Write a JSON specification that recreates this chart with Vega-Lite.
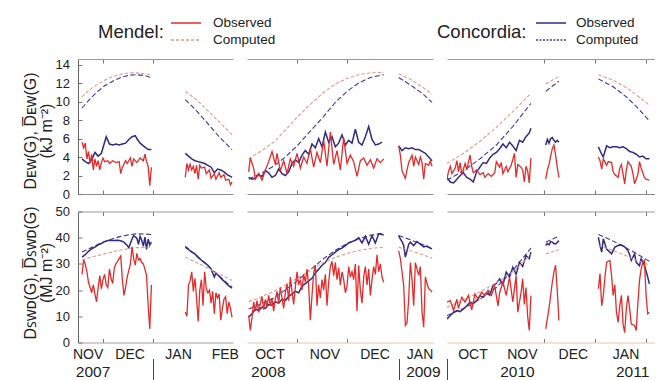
{
"$schema":"https://vega.github.io/schema/vega-lite/v6.json",
"background":"white",
"padding":{"left":21,"top":14,"right":0,"bottom":0},
"datasets":{
"E1MO":[{"d":"2007-11-18","g":1,"v":5.6},{"d":"2007-11-19","g":1,"v":5.0},{"d":"2007-11-20","g":1,"v":5.5},{"d":"2007-11-21","g":1,"v":3.8},{"d":"2007-11-22","g":1,"v":4.6},{"d":"2007-11-23","g":1,"v":3.3},{"d":"2007-11-24","g":1,"v":4.3},{"d":"2007-11-25","g":1,"v":2.6},{"d":"2007-11-26","g":1,"v":3.8},{"d":"2007-11-27","g":1,"v":3.0},{"d":"2007-11-28","g":1,"v":3.6},{"d":"2007-11-29","g":1,"v":2.6},{"d":"2007-11-30","g":1,"v":3.4},{"d":"2007-12-01","g":1,"v":3.9},{"d":"2007-12-02","g":1,"v":3.5},{"d":"2007-12-04","g":1,"v":3.6},{"d":"2007-12-05","g":1,"v":3.3},{"d":"2007-12-07","g":1,"v":3.6},{"d":"2007-12-09","g":1,"v":3.4},{"d":"2007-12-11","g":1,"v":3.5},{"d":"2007-12-12","g":1,"v":2.2},{"d":"2007-12-13","g":1,"v":2.9},{"d":"2007-12-15","g":1,"v":3.6},{"d":"2007-12-16","g":1,"v":3.3},{"d":"2007-12-18","g":1,"v":3.9},{"d":"2007-12-19","g":1,"v":3.0},{"d":"2007-12-20","g":1,"v":3.8},{"d":"2007-12-22","g":1,"v":3.4},{"d":"2007-12-24","g":1,"v":3.9},{"d":"2007-12-26","g":1,"v":3.6},{"d":"2007-12-27","g":1,"v":4.3},{"d":"2007-12-28","g":1,"v":3.5},{"d":"2007-12-29","g":1,"v":3.0},{"d":"2007-12-30","g":1,"v":0.9},{"d":"2007-12-31","g":1,"v":2.9},
{"d":"2008-01-21","g":2,"v":1.8},{"d":"2008-01-22","g":2,"v":3.3},{"d":"2008-01-23","g":2,"v":2.6},{"d":"2008-01-24","g":2,"v":3.2},{"d":"2008-01-25","g":2,"v":2.6},{"d":"2008-01-26","g":2,"v":3.0},{"d":"2008-01-27","g":2,"v":2.2},{"d":"2008-01-28","g":2,"v":3.1},{"d":"2008-01-29","g":2,"v":1.6},{"d":"2008-01-30","g":2,"v":3.1},{"d":"2008-01-31","g":2,"v":2.8},{"d":"2008-02-02","g":2,"v":2.9},{"d":"2008-02-03","g":2,"v":2.2},{"d":"2008-02-05","g":2,"v":2.6},{"d":"2008-02-06","g":2,"v":1.7},{"d":"2008-02-08","g":2,"v":2.2},{"d":"2008-02-09","g":2,"v":1.6},{"d":"2008-02-11","g":2,"v":2.3},{"d":"2008-02-12","g":2,"v":1.8},{"d":"2008-02-14","g":2,"v":2.1},{"d":"2008-02-15","g":2,"v":1.5},{"d":"2008-02-17","g":2,"v":1.6},{"d":"2008-02-18","g":2,"v":1.0},{"d":"2008-02-19","g":2,"v":1.3}],
"E1MC":[{"d":"2007-11-18","g":1,"v":10.5},{"d":"2007-11-22","g":1,"v":11.2},{"d":"2007-11-27","g":1,"v":11.8},{"d":"2007-12-02","g":1,"v":12.3},{"d":"2007-12-07","g":1,"v":12.7},{"d":"2007-12-12","g":1,"v":12.95},{"d":"2007-12-17","g":1,"v":13.1},{"d":"2007-12-22","g":1,"v":13.1},{"d":"2007-12-27","g":1,"v":13.0},{"d":"2007-12-31","g":1,"v":12.9},
{"d":"2008-01-21","g":2,"v":11.1},{"d":"2008-01-28","g":2,"v":10.2},{"d":"2008-02-04","g":2,"v":9.0},{"d":"2008-02-11","g":2,"v":7.8},{"d":"2008-02-19","g":2,"v":6.4}],
"E1CO":[{"d":"2007-11-18","g":1,"v":3.8},{"d":"2007-11-20","g":1,"v":3.5},{"d":"2007-11-22","g":1,"v":3.3},{"d":"2007-11-24","g":1,"v":3.7},{"d":"2007-11-26","g":1,"v":4.5},{"d":"2007-11-28","g":1,"v":4.1},{"d":"2007-11-30","g":1,"v":4.4},{"d":"2007-12-01","g":1,"v":5.0},{"d":"2007-12-03","g":1,"v":6.2},{"d":"2007-12-05","g":1,"v":5.4},{"d":"2007-12-07","g":1,"v":5.3},{"d":"2007-12-09","g":1,"v":5.4},{"d":"2007-12-11","g":1,"v":5.3},{"d":"2007-12-13","g":1,"v":5.4},{"d":"2007-12-15","g":1,"v":5.5},{"d":"2007-12-17","g":1,"v":5.9},{"d":"2007-12-19","g":1,"v":6.2},{"d":"2007-12-21","g":1,"v":6.3},{"d":"2007-12-22","g":1,"v":6.0},{"d":"2007-12-24","g":1,"v":5.5},{"d":"2007-12-26","g":1,"v":5.2},{"d":"2007-12-29","g":1,"v":4.8},{"d":"2007-12-31","g":1,"v":4.8},
{"d":"2008-01-21","g":2,"v":4.4},{"d":"2008-01-23","g":2,"v":4.1},{"d":"2008-01-25","g":2,"v":3.8},{"d":"2008-01-27","g":2,"v":3.6},{"d":"2008-01-29","g":2,"v":3.5},{"d":"2008-01-31","g":2,"v":3.4},{"d":"2008-02-02","g":2,"v":3.3},{"d":"2008-02-04","g":2,"v":3.1},{"d":"2008-02-06","g":2,"v":2.9},{"d":"2008-02-08","g":2,"v":2.3},{"d":"2008-02-10","g":2,"v":2.7},{"d":"2008-02-12","g":2,"v":2.6},{"d":"2008-02-14","g":2,"v":2.4},{"d":"2008-02-16","g":2,"v":2.1},{"d":"2008-02-18","g":2,"v":1.9},{"d":"2008-02-19","g":2,"v":1.8}],
"E1CC":[{"d":"2007-11-18","g":1,"v":9.3},{"d":"2007-11-22","g":1,"v":10.1},{"d":"2007-11-27","g":1,"v":11.0},{"d":"2007-12-02","g":1,"v":11.7},{"d":"2007-12-07","g":1,"v":12.2},{"d":"2007-12-12","g":1,"v":12.6},{"d":"2007-12-17","g":1,"v":12.85},{"d":"2007-12-22","g":1,"v":12.9},{"d":"2007-12-27","g":1,"v":12.8},{"d":"2007-12-31","g":1,"v":12.6},
{"d":"2008-01-21","g":2,"v":10.2},{"d":"2008-01-28","g":2,"v":9.0},{"d":"2008-02-04","g":2,"v":7.6},{"d":"2008-02-11","g":2,"v":6.2},{"d":"2008-02-19","g":2,"v":4.8}],
"E2MO":[{"d":"2008-10-03","g":1,"v":2.4},{"d":"2008-10-04","g":1,"v":3.9},{"d":"2008-10-06","g":1,"v":2.8},{"d":"2008-10-07","g":1,"v":1.6},{"d":"2008-10-09","g":1,"v":2.2},{"d":"2008-10-11","g":1,"v":1.5},{"d":"2008-10-13","g":1,"v":2.6},{"d":"2008-10-15","g":1,"v":3.5},{"d":"2008-10-17","g":1,"v":4.6},{"d":"2008-10-19","g":1,"v":3.2},{"d":"2008-10-20","g":1,"v":4.4},{"d":"2008-10-22","g":1,"v":2.5},{"d":"2008-10-24","g":1,"v":3.6},{"d":"2008-10-26","g":1,"v":2.2},{"d":"2008-10-28","g":1,"v":3.8},{"d":"2008-10-30","g":1,"v":3.0},{"d":"2008-11-01","g":1,"v":4.4},{"d":"2008-11-03","g":1,"v":2.8},{"d":"2008-11-05","g":1,"v":4.0},{"d":"2008-11-07","g":1,"v":3.3},{"d":"2008-11-09","g":1,"v":4.9},{"d":"2008-11-11","g":1,"v":2.9},{"d":"2008-11-13","g":1,"v":4.5},{"d":"2008-11-15","g":1,"v":3.4},{"d":"2008-11-17","g":1,"v":5.8},{"d":"2008-11-19","g":1,"v":3.0},{"d":"2008-11-21","g":1,"v":6.7},{"d":"2008-11-23","g":1,"v":3.2},{"d":"2008-11-25","g":1,"v":4.7},{"d":"2008-11-27","g":1,"v":2.6},{"d":"2008-11-29","g":1,"v":6.1},{"d":"2008-12-01","g":1,"v":3.3},{"d":"2008-12-03","g":1,"v":4.2},{"d":"2008-12-05","g":1,"v":3.5},{"d":"2008-12-07","g":1,"v":1.9},{"d":"2008-12-09","g":1,"v":3.6},{"d":"2008-12-11","g":1,"v":3.9},{"d":"2008-12-13","g":1,"v":3.1},{"d":"2008-12-15","g":1,"v":3.7},{"d":"2008-12-17","g":1,"v":2.8},{"d":"2008-12-19","g":1,"v":3.8},{"d":"2008-12-21","g":1,"v":3.4},{"d":"2008-12-23","g":1,"v":3.8},
{"d":"2009-01-01","g":2,"v":5.2},{"d":"2009-01-02","g":2,"v":4.2},{"d":"2009-01-03","g":2,"v":2.5},{"d":"2009-01-05","g":2,"v":1.7},{"d":"2009-01-06","g":2,"v":2.6},{"d":"2009-01-07","g":2,"v":3.4},{"d":"2009-01-09","g":2,"v":4.2},{"d":"2009-01-10","g":2,"v":3.0},{"d":"2009-01-11","g":2,"v":4.0},{"d":"2009-01-13","g":2,"v":3.2},{"d":"2009-01-14","g":2,"v":4.0},{"d":"2009-01-15","g":2,"v":3.4},{"d":"2009-01-16","g":2,"v":1.6},{"d":"2009-01-17","g":2,"v":3.3},{"d":"2009-01-19","g":2,"v":3.1},{"d":"2009-01-20","g":2,"v":3.6},{"d":"2009-01-21","g":2,"v":3.0}],
"E2MC":[{"d":"2008-10-03","g":1,"v":3.8},{"d":"2008-10-10","g":1,"v":4.6},{"d":"2008-10-18","g":1,"v":5.6},{"d":"2008-10-25","g":1,"v":6.9},{"d":"2008-11-01","g":1,"v":8.3},{"d":"2008-11-09","g":1,"v":9.7},{"d":"2008-11-17","g":1,"v":11.0},{"d":"2008-11-24","g":1,"v":11.9},{"d":"2008-12-01","g":1,"v":12.5},{"d":"2008-12-08","g":1,"v":12.9},{"d":"2008-12-15","g":1,"v":13.1},{"d":"2008-12-23","g":1,"v":13.15},
{"d":"2009-01-01","g":2,"v":13.0},{"d":"2009-01-08","g":2,"v":12.4},{"d":"2009-01-15","g":2,"v":11.6},{"d":"2009-01-21","g":2,"v":10.8}],
"E2CO":[{"d":"2008-10-03","g":1,"v":1.8},{"d":"2008-10-05","g":1,"v":1.6},{"d":"2008-10-07","g":1,"v":1.7},{"d":"2008-10-09","g":1,"v":2.1},{"d":"2008-10-11","g":1,"v":1.9},{"d":"2008-10-13","g":1,"v":2.5},{"d":"2008-10-15","g":1,"v":2.3},{"d":"2008-10-17","g":1,"v":1.8},{"d":"2008-10-19","g":1,"v":2.0},{"d":"2008-10-21","g":1,"v":2.7},{"d":"2008-10-23","g":1,"v":2.2},{"d":"2008-10-25","g":1,"v":2.0},{"d":"2008-10-27","g":1,"v":2.4},{"d":"2008-10-29","g":1,"v":3.3},{"d":"2008-10-31","g":1,"v":3.7},{"d":"2008-11-02","g":1,"v":3.4},{"d":"2008-11-04","g":1,"v":4.2},{"d":"2008-11-06","g":1,"v":4.7},{"d":"2008-11-08","g":1,"v":4.3},{"d":"2008-11-10","g":1,"v":5.4},{"d":"2008-11-12","g":1,"v":5.0},{"d":"2008-11-14","g":1,"v":6.0},{"d":"2008-11-16","g":1,"v":5.1},{"d":"2008-11-18","g":1,"v":6.7},{"d":"2008-11-20","g":1,"v":5.6},{"d":"2008-11-22","g":1,"v":6.2},{"d":"2008-11-24","g":1,"v":5.1},{"d":"2008-11-26","g":1,"v":5.5},{"d":"2008-11-28","g":1,"v":6.4},{"d":"2008-11-30","g":1,"v":5.3},{"d":"2008-12-02","g":1,"v":5.8},{"d":"2008-12-04","g":1,"v":5.5},{"d":"2008-12-06","g":1,"v":7.0},{"d":"2008-12-08","g":1,"v":5.6},{"d":"2008-12-10","g":1,"v":5.3},{"d":"2008-12-12","g":1,"v":6.2},{"d":"2008-12-14","g":1,"v":7.3},{"d":"2008-12-16","g":1,"v":5.9},{"d":"2008-12-18","g":1,"v":5.3},{"d":"2008-12-20","g":1,"v":5.4},{"d":"2008-12-22","g":1,"v":5.6},
{"d":"2009-01-01","g":2,"v":5.2},{"d":"2009-01-03","g":2,"v":4.7},{"d":"2009-01-05","g":2,"v":5.0},{"d":"2009-01-07","g":2,"v":4.9},{"d":"2009-01-09","g":2,"v":5.0},{"d":"2009-01-11","g":2,"v":4.8},{"d":"2009-01-13","g":2,"v":4.8},{"d":"2009-01-15","g":2,"v":4.6},{"d":"2009-01-17","g":2,"v":4.4},{"d":"2009-01-19","g":2,"v":4.0},{"d":"2009-01-21","g":2,"v":3.6}],
"E2CC":[{"d":"2008-10-03","g":1,"v":1.6},{"d":"2008-10-10","g":1,"v":2.2},{"d":"2008-10-18","g":1,"v":3.0},{"d":"2008-10-25","g":1,"v":4.0},{"d":"2008-11-01","g":1,"v":5.2},{"d":"2008-11-09","g":1,"v":6.8},{"d":"2008-11-17","g":1,"v":8.4},{"d":"2008-11-24","g":1,"v":9.9},{"d":"2008-12-01","g":1,"v":11.1},{"d":"2008-12-08","g":1,"v":12.0},{"d":"2008-12-15","g":1,"v":12.6},{"d":"2008-12-23","g":1,"v":12.9},
{"d":"2009-01-01","g":2,"v":12.6},{"d":"2009-01-08","g":2,"v":11.8},{"d":"2009-01-15","g":2,"v":10.9},{"d":"2009-01-21","g":2,"v":9.9}],
"E3MO":[{"d":"2010-10-03","g":1,"v":1.6},{"d":"2010-10-04","g":1,"v":2.5},{"d":"2010-10-05","g":1,"v":3.0},{"d":"2010-10-06","g":1,"v":2.2},{"d":"2010-10-08","g":1,"v":2.8},{"d":"2010-10-09","g":1,"v":3.6},{"d":"2010-10-10","g":1,"v":2.4},{"d":"2010-10-11","g":1,"v":3.4},{"d":"2010-10-12","g":1,"v":2.1},{"d":"2010-10-14","g":1,"v":3.3},{"d":"2010-10-15","g":1,"v":2.6},{"d":"2010-10-17","g":1,"v":4.2},{"d":"2010-10-18","g":1,"v":3.0},{"d":"2010-10-19","g":1,"v":2.3},{"d":"2010-10-21","g":1,"v":2.6},{"d":"2010-10-23","g":1,"v":2.1},{"d":"2010-10-25","g":1,"v":2.3},{"d":"2010-10-26","g":1,"v":1.8},{"d":"2010-10-28","g":1,"v":2.2},{"d":"2010-10-30","g":1,"v":1.9},{"d":"2010-11-01","g":1,"v":2.3},{"d":"2010-11-02","g":1,"v":3.5},{"d":"2010-11-04","g":1,"v":2.9},{"d":"2010-11-05","g":1,"v":3.4},{"d":"2010-11-06","g":1,"v":2.2},{"d":"2010-11-08","g":1,"v":3.0},{"d":"2010-11-09","g":1,"v":2.4},{"d":"2010-11-11","g":1,"v":3.1},{"d":"2010-11-13","g":1,"v":4.4},{"d":"2010-11-14","g":1,"v":1.8},{"d":"2010-11-15","g":1,"v":3.2},{"d":"2010-11-17","g":1,"v":2.9},{"d":"2010-11-18","g":1,"v":2.6},{"d":"2010-11-19","g":1,"v":1.3},{"d":"2010-11-20","g":1,"v":3.0},{"d":"2010-11-21","g":1,"v":2.5},{"d":"2010-11-22","g":1,"v":1.2},{"d":"2010-11-23","g":1,"v":3.9},
{"d":"2010-12-02","g":2,"v":1.6},{"d":"2010-12-03","g":2,"v":2.6},{"d":"2010-12-04","g":2,"v":3.2},{"d":"2010-12-05","g":2,"v":4.1},{"d":"2010-12-06","g":2,"v":4.9},{"d":"2010-12-07","g":2,"v":5.3},{"d":"2010-12-08","g":2,"v":4.2},{"d":"2010-12-09","g":2,"v":2.9},{"d":"2010-12-10","g":2,"v":1.8},
{"d":"2011-01-03","g":3,"v":4.0},{"d":"2011-01-04","g":3,"v":3.6},{"d":"2011-01-05","g":3,"v":2.7},{"d":"2011-01-06","g":3,"v":3.8},{"d":"2011-01-08","g":3,"v":3.1},{"d":"2011-01-09","g":3,"v":3.5},{"d":"2011-01-11","g":3,"v":3.4},{"d":"2011-01-12","g":3,"v":2.4},{"d":"2011-01-13","g":3,"v":2.1},{"d":"2011-01-15","g":3,"v":1.8},{"d":"2011-01-16","g":3,"v":2.8},{"d":"2011-01-17","g":3,"v":3.2},{"d":"2011-01-19","g":3,"v":1.1},{"d":"2011-01-20","g":3,"v":2.6},{"d":"2011-01-21","g":3,"v":3.5},{"d":"2011-01-23","g":3,"v":3.0},{"d":"2011-01-24","g":3,"v":2.2},{"d":"2011-01-25","g":3,"v":1.1},{"d":"2011-01-27","g":3,"v":2.1},{"d":"2011-01-28","g":3,"v":3.5},{"d":"2011-01-29","g":3,"v":2.8},{"d":"2011-01-31","g":3,"v":1.8},{"d":"2011-02-01","g":3,"v":1.6},{"d":"2011-02-03","g":3,"v":1.5}],
"E3MC":[{"d":"2010-10-03","g":1,"v":3.3},{"d":"2010-10-13","g":1,"v":4.4},{"d":"2010-10-23","g":1,"v":5.7},{"d":"2010-11-02","g":1,"v":7.2},{"d":"2010-11-12","g":1,"v":8.9},{"d":"2010-11-23","g":1,"v":10.9},
{"d":"2010-12-02","g":2,"v":11.9},{"d":"2010-12-10","g":2,"v":12.7},
{"d":"2011-01-03","g":3,"v":12.9},{"d":"2011-01-12","g":3,"v":12.3},{"d":"2011-01-20","g":3,"v":11.5},{"d":"2011-01-27","g":3,"v":10.6},{"d":"2011-02-03","g":3,"v":9.6}],
"E3CO":[{"d":"2010-10-03","g":1,"v":1.8},{"d":"2010-10-05","g":1,"v":1.3},{"d":"2010-10-07","g":1,"v":1.2},{"d":"2010-10-09","g":1,"v":1.6},{"d":"2010-10-11","g":1,"v":2.0},{"d":"2010-10-13","g":1,"v":2.3},{"d":"2010-10-15","g":1,"v":1.8},{"d":"2010-10-17","g":1,"v":1.6},{"d":"2010-10-19","g":1,"v":1.3},{"d":"2010-10-21","g":1,"v":2.4},{"d":"2010-10-23","g":1,"v":2.9},{"d":"2010-10-25","g":1,"v":3.4},{"d":"2010-10-27","g":1,"v":3.3},{"d":"2010-10-29","g":1,"v":3.9},{"d":"2010-10-31","g":1,"v":4.3},{"d":"2010-11-02","g":1,"v":4.5},{"d":"2010-11-04","g":1,"v":4.9},{"d":"2010-11-06","g":1,"v":5.4},{"d":"2010-11-08","g":1,"v":5.0},{"d":"2010-11-10","g":1,"v":5.6},{"d":"2010-11-12","g":1,"v":5.2},{"d":"2010-11-14","g":1,"v":4.7},{"d":"2010-11-16","g":1,"v":5.8},{"d":"2010-11-18","g":1,"v":5.6},{"d":"2010-11-20","g":1,"v":6.2},{"d":"2010-11-22","g":1,"v":6.6},{"d":"2010-11-23","g":1,"v":7.1},
{"d":"2010-12-02","g":2,"v":5.3},{"d":"2010-12-03","g":2,"v":5.9},{"d":"2010-12-04","g":2,"v":5.5},{"d":"2010-12-05","g":2,"v":6.0},{"d":"2010-12-06","g":2,"v":6.1},{"d":"2010-12-07","g":2,"v":5.8},{"d":"2010-12-08","g":2,"v":5.6},{"d":"2010-12-09","g":2,"v":5.8},{"d":"2010-12-10","g":2,"v":5.6},
{"d":"2011-01-03","g":3,"v":5.1},{"d":"2011-01-05","g":3,"v":4.3},{"d":"2011-01-06","g":3,"v":4.0},{"d":"2011-01-08","g":3,"v":5.2},{"d":"2011-01-10","g":3,"v":5.0},{"d":"2011-01-12","g":3,"v":5.1},{"d":"2011-01-14","g":3,"v":5.1},{"d":"2011-01-16","g":3,"v":5.0},{"d":"2011-01-18","g":3,"v":5.1},{"d":"2011-01-20","g":3,"v":4.9},{"d":"2011-01-22","g":3,"v":4.6},{"d":"2011-01-24","g":3,"v":4.5},{"d":"2011-01-26","g":3,"v":4.3},{"d":"2011-01-28","g":3,"v":4.0},{"d":"2011-01-30","g":3,"v":4.1},{"d":"2011-02-01","g":3,"v":3.8},{"d":"2011-02-03","g":3,"v":3.8}],
"E3CC":[{"d":"2010-10-03","g":1,"v":1.5},{"d":"2010-10-13","g":1,"v":2.5},{"d":"2010-10-23","g":1,"v":3.8},{"d":"2010-11-02","g":1,"v":5.3},{"d":"2010-11-12","g":1,"v":7.3},{"d":"2010-11-23","g":1,"v":9.8},
{"d":"2010-12-02","g":2,"v":11.1},{"d":"2010-12-10","g":2,"v":12.2},
{"d":"2011-01-03","g":3,"v":12.45},{"d":"2011-01-12","g":3,"v":11.6},{"d":"2011-01-20","g":3,"v":10.5},{"d":"2011-01-27","g":3,"v":9.3},{"d":"2011-02-03","g":3,"v":7.9}],
"S1MO":[{"d":"2007-11-18","g":1,"v":26.0},{"d":"2007-11-19","g":1,"v":31.5},{"d":"2007-11-20","g":1,"v":30.0},{"d":"2007-11-21","g":1,"v":27.0},{"d":"2007-11-22","g":1,"v":23.0},{"d":"2007-11-23","g":1,"v":21.0},{"d":"2007-11-24","g":1,"v":19.0},{"d":"2007-11-25","g":1,"v":22.0},{"d":"2007-11-26","g":1,"v":18.5},{"d":"2007-11-27","g":1,"v":15.5},{"d":"2007-11-28","g":1,"v":21.0},{"d":"2007-11-29","g":1,"v":25.5},{"d":"2007-11-30","g":1,"v":20.5},{"d":"2007-12-01","g":1,"v":24.0},{"d":"2007-12-02","g":1,"v":26.0},{"d":"2007-12-03","g":1,"v":22.0},{"d":"2007-12-04","g":1,"v":21.0},{"d":"2007-12-05","g":1,"v":28.0},{"d":"2007-12-06","g":1,"v":24.5},{"d":"2007-12-07","g":1,"v":22.5},{"d":"2007-12-08","g":1,"v":28.5},{"d":"2007-12-09","g":1,"v":30.0},{"d":"2007-12-10","g":1,"v":31.0},{"d":"2007-12-11","g":1,"v":32.0},{"d":"2007-12-12","g":1,"v":33.0},{"d":"2007-12-13","g":1,"v":24.0},{"d":"2007-12-14","g":1,"v":18.0},{"d":"2007-12-15","g":1,"v":21.0},{"d":"2007-12-16","g":1,"v":25.0},{"d":"2007-12-17","g":1,"v":27.5},{"d":"2007-12-18","g":1,"v":30.0},{"d":"2007-12-19","g":1,"v":36.5},{"d":"2007-12-20","g":1,"v":32.0},{"d":"2007-12-21","g":1,"v":29.5},{"d":"2007-12-22","g":1,"v":34.0},{"d":"2007-12-23","g":1,"v":31.5},{"d":"2007-12-24","g":1,"v":32.0},{"d":"2007-12-25","g":1,"v":30.5},{"d":"2007-12-26","g":1,"v":30.0},{"d":"2007-12-27","g":1,"v":28.0},{"d":"2007-12-28","g":1,"v":25.5},{"d":"2007-12-29","g":1,"v":14.0},{"d":"2007-12-30","g":1,"v":5.2},{"d":"2007-12-31","g":1,"v":22.0},
{"d":"2008-01-21","g":2,"v":11.6},{"d":"2008-01-22","g":2,"v":10.0},{"d":"2008-01-23","g":2,"v":22.0},{"d":"2008-01-24","g":2,"v":23.5},{"d":"2008-01-25","g":2,"v":27.0},{"d":"2008-01-26","g":2,"v":19.5},{"d":"2008-01-27","g":2,"v":24.5},{"d":"2008-01-28","g":2,"v":17.0},{"d":"2008-01-29","g":2,"v":8.0},{"d":"2008-01-30","g":2,"v":20.0},{"d":"2008-01-31","g":2,"v":24.0},{"d":"2008-02-01","g":2,"v":14.0},{"d":"2008-02-02","g":2,"v":27.0},{"d":"2008-02-03","g":2,"v":20.5},{"d":"2008-02-04","g":2,"v":19.0},{"d":"2008-02-05","g":2,"v":20.0},{"d":"2008-02-06","g":2,"v":15.0},{"d":"2008-02-07","g":2,"v":19.5},{"d":"2008-02-08","g":2,"v":11.0},{"d":"2008-02-09","g":2,"v":19.0},{"d":"2008-02-10","g":2,"v":17.0},{"d":"2008-02-11","g":2,"v":18.5},{"d":"2008-02-12","g":2,"v":8.5},{"d":"2008-02-13","g":2,"v":13.0},{"d":"2008-02-14","g":2,"v":16.5},{"d":"2008-02-15","g":2,"v":17.5},{"d":"2008-02-16","g":2,"v":11.0},{"d":"2008-02-17","g":2,"v":15.5},{"d":"2008-02-18","g":2,"v":13.0},{"d":"2008-02-19","g":2,"v":9.6}],
"S1MC":[{"d":"2007-11-18","g":1,"v":31.5},{"d":"2007-11-25","g":1,"v":32.8},{"d":"2007-12-01","g":1,"v":33.7},{"d":"2007-12-07","g":1,"v":34.6},{"d":"2007-12-12","g":1,"v":35.3},{"d":"2007-12-17","g":1,"v":35.8},{"d":"2007-12-22","g":1,"v":36.2},{"d":"2007-12-27","g":1,"v":36.3},{"d":"2007-12-31","g":1,"v":36.4},
{"d":"2008-01-21","g":2,"v":32.6},{"d":"2008-01-28","g":2,"v":30.5},{"d":"2008-02-04","g":2,"v":28.4},{"d":"2008-02-11","g":2,"v":26.1},{"d":"2008-02-19","g":2,"v":23.7}],
"S1CO":[{"d":"2007-11-18","g":1,"v":32.6},{"d":"2007-11-20","g":1,"v":33.5},{"d":"2007-11-22","g":1,"v":34.8},{"d":"2007-11-24","g":1,"v":35.8},{"d":"2007-11-26","g":1,"v":36.4},{"d":"2007-11-28","g":1,"v":37.3},{"d":"2007-11-30","g":1,"v":37.8},{"d":"2007-12-02","g":1,"v":38.5},{"d":"2007-12-04","g":1,"v":38.9},{"d":"2007-12-06","g":1,"v":39.0},{"d":"2007-12-08","g":1,"v":38.9},{"d":"2007-12-10","g":1,"v":39.0},{"d":"2007-12-12","g":1,"v":38.8},{"d":"2007-12-14","g":1,"v":38.3},{"d":"2007-12-16","g":1,"v":37.0},{"d":"2007-12-17","g":1,"v":36.2},{"d":"2007-12-19","g":1,"v":39.5},{"d":"2007-12-20","g":1,"v":40.8},{"d":"2007-12-22","g":1,"v":39.8},{"d":"2007-12-23","g":1,"v":37.5},{"d":"2007-12-24","g":1,"v":40.5},{"d":"2007-12-25","g":1,"v":39.0},{"d":"2007-12-26","g":1,"v":36.8},{"d":"2007-12-27","g":1,"v":40.2},{"d":"2007-12-28","g":1,"v":35.5},{"d":"2007-12-29","g":1,"v":39.5},{"d":"2007-12-30","g":1,"v":37.2},{"d":"2007-12-31","g":1,"v":38.3},
{"d":"2008-01-21","g":2,"v":36.3},{"d":"2008-01-23","g":2,"v":35.5},{"d":"2008-01-25","g":2,"v":34.5},{"d":"2008-01-27","g":2,"v":33.8},{"d":"2008-01-29","g":2,"v":32.5},{"d":"2008-01-31","g":2,"v":31.4},{"d":"2008-02-02","g":2,"v":30.5},{"d":"2008-02-04","g":2,"v":29.5},{"d":"2008-02-06","g":2,"v":28.0},{"d":"2008-02-08","g":2,"v":25.0},{"d":"2008-02-09","g":2,"v":26.5},{"d":"2008-02-11","g":2,"v":25.3},{"d":"2008-02-13","g":2,"v":24.0},{"d":"2008-02-15","g":2,"v":22.8},{"d":"2008-02-17","g":2,"v":21.6},{"d":"2008-02-19","g":2,"v":20.7}],
"S1CC":[{"d":"2007-11-18","g":1,"v":34.5},{"d":"2007-11-25","g":1,"v":36.6},{"d":"2007-12-01","g":1,"v":38.3},{"d":"2007-12-07","g":1,"v":39.6},{"d":"2007-12-12","g":1,"v":40.5},{"d":"2007-12-17","g":1,"v":41.1},{"d":"2007-12-22","g":1,"v":41.5},{"d":"2007-12-27","g":1,"v":41.4},{"d":"2007-12-31","g":1,"v":41.2},
{"d":"2008-01-21","g":2,"v":36.8},{"d":"2008-01-28","g":2,"v":33.2},{"d":"2008-02-04","g":2,"v":29.3},{"d":"2008-02-11","g":2,"v":25.3},{"d":"2008-02-19","g":2,"v":21.1}],
"S2MO":[{"d":"2008-10-03","g":1,"v":10.3},{"d":"2008-10-04","g":1,"v":4.6},{"d":"2008-10-05","g":1,"v":9.5},{"d":"2008-10-06","g":1,"v":15.5},{"d":"2008-10-07","g":1,"v":12.0},{"d":"2008-10-08","g":1,"v":16.0},{"d":"2008-10-09","g":1,"v":11.5},{"d":"2008-10-10","g":1,"v":15.0},{"d":"2008-10-11","g":1,"v":17.5},{"d":"2008-10-12","g":1,"v":12.5},{"d":"2008-10-13","g":1,"v":16.5},{"d":"2008-10-14","g":1,"v":13.5},{"d":"2008-10-15","g":1,"v":18.0},{"d":"2008-10-16","g":1,"v":14.0},{"d":"2008-10-17","g":1,"v":17.0},{"d":"2008-10-18","g":1,"v":12.0},{"d":"2008-10-19","g":1,"v":16.5},{"d":"2008-10-20","g":1,"v":19.5},{"d":"2008-10-21","g":1,"v":15.0},{"d":"2008-10-22","g":1,"v":21.0},{"d":"2008-10-23","g":1,"v":17.0},{"d":"2008-10-24","g":1,"v":13.0},{"d":"2008-10-25","g":1,"v":19.0},{"d":"2008-10-26","g":1,"v":22.5},{"d":"2008-10-27","g":1,"v":16.0},{"d":"2008-10-28","g":1,"v":25.0},{"d":"2008-10-29","g":1,"v":19.5},{"d":"2008-10-30","g":1,"v":14.5},{"d":"2008-10-31","g":1,"v":21.0},{"d":"2008-11-01","g":1,"v":27.0},{"d":"2008-11-02","g":1,"v":22.0},{"d":"2008-11-03","g":1,"v":24.0},{"d":"2008-11-04","g":1,"v":20.0},{"d":"2008-11-05","g":1,"v":26.0},{"d":"2008-11-06","g":1,"v":23.0},{"d":"2008-11-07","g":1,"v":28.0},{"d":"2008-11-08","g":1,"v":21.5},{"d":"2008-11-09","g":1,"v":8.5},{"d":"2008-11-10","g":1,"v":18.0},{"d":"2008-11-11","g":1,"v":26.5},{"d":"2008-11-12","g":1,"v":29.5},{"d":"2008-11-13","g":1,"v":14.0},{"d":"2008-11-14","g":1,"v":22.0},{"d":"2008-11-15","g":1,"v":17.0},{"d":"2008-11-16","g":1,"v":24.0},{"d":"2008-11-17","g":1,"v":20.0},{"d":"2008-11-18","g":1,"v":26.0},{"d":"2008-11-19","g":1,"v":14.0},{"d":"2008-11-20","g":1,"v":23.0},{"d":"2008-11-21","g":1,"v":29.0},{"d":"2008-11-22","g":1,"v":31.0},{"d":"2008-11-23","g":1,"v":25.5},{"d":"2008-11-24","g":1,"v":30.5},{"d":"2008-11-25","g":1,"v":24.0},{"d":"2008-11-26","g":1,"v":28.5},{"d":"2008-11-27","g":1,"v":22.0},{"d":"2008-11-28","g":1,"v":27.0},{"d":"2008-11-29","g":1,"v":24.0},{"d":"2008-11-30","g":1,"v":19.0},{"d":"2008-12-01","g":1,"v":21.5},{"d":"2008-12-02","g":1,"v":29.0},{"d":"2008-12-03","g":1,"v":25.0},{"d":"2008-12-04","g":1,"v":27.0},{"d":"2008-12-05","g":1,"v":24.0},{"d":"2008-12-06","g":1,"v":30.0},{"d":"2008-12-07","g":1,"v":12.0},{"d":"2008-12-08","g":1,"v":29.5},{"d":"2008-12-09","g":1,"v":20.0},{"d":"2008-12-10","g":1,"v":15.0},{"d":"2008-12-11","g":1,"v":25.0},{"d":"2008-12-12","g":1,"v":29.0},{"d":"2008-12-13","g":1,"v":22.0},{"d":"2008-12-14","g":1,"v":28.0},{"d":"2008-12-15","g":1,"v":18.0},{"d":"2008-12-16","g":1,"v":24.0},{"d":"2008-12-17","g":1,"v":29.0},{"d":"2008-12-18","g":1,"v":26.0},{"d":"2008-12-19","g":1,"v":33.5},{"d":"2008-12-20","g":1,"v":27.0},{"d":"2008-12-21","g":1,"v":30.0},{"d":"2008-12-22","g":1,"v":25.0},{"d":"2008-12-23","g":1,"v":23.0},
{"d":"2009-01-01","g":2,"v":35.0},{"d":"2009-01-02","g":2,"v":32.0},{"d":"2009-01-03","g":2,"v":27.0},{"d":"2009-01-04","g":2,"v":21.8},{"d":"2009-01-05","g":2,"v":6.5},{"d":"2009-01-06","g":2,"v":7.5},{"d":"2009-01-07","g":2,"v":16.6},{"d":"2009-01-08","g":2,"v":30.5},{"d":"2009-01-09","g":2,"v":24.0},{"d":"2009-01-10","g":2,"v":14.0},{"d":"2009-01-11","g":2,"v":30.5},{"d":"2009-01-13","g":2,"v":25.6},{"d":"2009-01-14","g":2,"v":29.0},{"d":"2009-01-15","g":2,"v":11.6},{"d":"2009-01-16","g":2,"v":5.8},{"d":"2009-01-17","g":2,"v":25.0},{"d":"2009-01-18","g":2,"v":22.5},{"d":"2009-01-19","g":2,"v":20.5},{"d":"2009-01-20","g":2,"v":20.0},{"d":"2009-01-21","g":2,"v":19.2}],
"S2MC":[{"d":"2008-10-03","g":1,"v":15.6},{"d":"2008-10-10","g":1,"v":17.3},{"d":"2008-10-18","g":1,"v":19.5},{"d":"2008-10-25","g":1,"v":21.9},{"d":"2008-11-01","g":1,"v":24.5},{"d":"2008-11-09","g":1,"v":27.7},{"d":"2008-11-17","g":1,"v":30.5},{"d":"2008-11-24","g":1,"v":32.5},{"d":"2008-12-01","g":1,"v":34.0},{"d":"2008-12-08","g":1,"v":35.1},{"d":"2008-12-15","g":1,"v":35.9},{"d":"2008-12-23","g":1,"v":36.4},
{"d":"2009-01-01","g":2,"v":36.4},{"d":"2009-01-08","g":2,"v":35.0},{"d":"2009-01-15","g":2,"v":33.6},{"d":"2009-01-21","g":2,"v":32.2}],
"S2CO":[{"d":"2008-10-03","g":1,"v":9.7},{"d":"2008-10-05","g":1,"v":11.0},{"d":"2008-10-07","g":1,"v":12.8},{"d":"2008-10-09","g":1,"v":12.2},{"d":"2008-10-11","g":1,"v":13.5},{"d":"2008-10-13","g":1,"v":13.0},{"d":"2008-10-15","g":1,"v":14.5},{"d":"2008-10-17","g":1,"v":14.2},{"d":"2008-10-19","g":1,"v":15.5},{"d":"2008-10-21","g":1,"v":15.0},{"d":"2008-10-23","g":1,"v":16.5},{"d":"2008-10-25","g":1,"v":16.0},{"d":"2008-10-27","g":1,"v":17.5},{"d":"2008-10-29","g":1,"v":18.5},{"d":"2008-10-31","g":1,"v":19.5},{"d":"2008-11-02","g":1,"v":19.0},{"d":"2008-11-04","g":1,"v":21.5},{"d":"2008-11-06","g":1,"v":22.5},{"d":"2008-11-08","g":1,"v":23.5},{"d":"2008-11-10","g":1,"v":24.5},{"d":"2008-11-12","g":1,"v":26.5},{"d":"2008-11-14","g":1,"v":28.0},{"d":"2008-11-16","g":1,"v":29.5},{"d":"2008-11-18","g":1,"v":30.5},{"d":"2008-11-20","g":1,"v":32.5},{"d":"2008-11-22","g":1,"v":33.5},{"d":"2008-11-24","g":1,"v":34.5},{"d":"2008-11-26","g":1,"v":35.5},{"d":"2008-11-28","g":1,"v":36.0},{"d":"2008-11-30","g":1,"v":37.0},{"d":"2008-12-02","g":1,"v":38.0},{"d":"2008-12-04","g":1,"v":38.5},{"d":"2008-12-06","g":1,"v":39.0},{"d":"2008-12-08","g":1,"v":40.0},{"d":"2008-12-10","g":1,"v":38.0},{"d":"2008-12-12","g":1,"v":40.5},{"d":"2008-12-14","g":1,"v":37.5},{"d":"2008-12-16","g":1,"v":40.8},{"d":"2008-12-18","g":1,"v":38.0},{"d":"2008-12-20","g":1,"v":41.5},{"d":"2008-12-22","g":1,"v":41.2},{"d":"2008-12-23","g":1,"v":41.0},
{"d":"2009-01-01","g":2,"v":40.8},{"d":"2009-01-02","g":2,"v":39.5},{"d":"2009-01-03","g":2,"v":38.5},{"d":"2009-01-04","g":2,"v":37.0},{"d":"2009-01-05","g":2,"v":32.6},{"d":"2009-01-06","g":2,"v":35.0},{"d":"2009-01-07","g":2,"v":37.5},{"d":"2009-01-08","g":2,"v":38.3},{"d":"2009-01-10","g":2,"v":37.0},{"d":"2009-01-12","g":2,"v":38.5},{"d":"2009-01-14","g":2,"v":37.5},{"d":"2009-01-16","g":2,"v":36.5},{"d":"2009-01-18","g":2,"v":36.8},{"d":"2009-01-20","g":2,"v":36.0},{"d":"2009-01-21","g":2,"v":35.8}],
"S2CC":[{"d":"2008-10-03","g":1,"v":12.8},{"d":"2008-10-10","g":1,"v":14.6},{"d":"2008-10-18","g":1,"v":17.0},{"d":"2008-10-25","g":1,"v":20.0},{"d":"2008-11-01","g":1,"v":23.5},{"d":"2008-11-09","g":1,"v":27.8},{"d":"2008-11-17","g":1,"v":32.0},{"d":"2008-11-24","g":1,"v":35.2},{"d":"2008-12-01","g":1,"v":37.8},{"d":"2008-12-08","g":1,"v":39.6},{"d":"2008-12-15","g":1,"v":40.9},{"d":"2008-12-23","g":1,"v":41.8},
{"d":"2009-01-01","g":2,"v":40.8},{"d":"2009-01-08","g":2,"v":39.2},{"d":"2009-01-15","g":2,"v":37.5},{"d":"2009-01-21","g":2,"v":35.7}],
"S3MO":[{"d":"2010-10-03","g":1,"v":15.4},{"d":"2010-10-05","g":1,"v":16.0},{"d":"2010-10-07","g":1,"v":12.2},{"d":"2010-10-09","g":1,"v":16.5},{"d":"2010-10-10","g":1,"v":13.0},{"d":"2010-10-12","g":1,"v":17.3},{"d":"2010-10-14","g":1,"v":15.4},{"d":"2010-10-16","g":1,"v":18.0},{"d":"2010-10-18","g":1,"v":12.5},{"d":"2010-10-20","g":1,"v":18.5},{"d":"2010-10-22","g":1,"v":16.5},{"d":"2010-10-24","g":1,"v":19.2},{"d":"2010-10-26","g":1,"v":18.0},{"d":"2010-10-28","g":1,"v":20.0},{"d":"2010-10-30","g":1,"v":18.0},{"d":"2010-11-01","g":1,"v":21.5},{"d":"2010-11-03","g":1,"v":14.0},{"d":"2010-11-04","g":1,"v":19.0},{"d":"2010-11-06","g":1,"v":23.1},{"d":"2010-11-08","g":1,"v":18.0},{"d":"2010-11-10","g":1,"v":25.0},{"d":"2010-11-12","g":1,"v":15.5},{"d":"2010-11-14","g":1,"v":25.5},{"d":"2010-11-15","g":1,"v":11.6},{"d":"2010-11-17","g":1,"v":19.0},{"d":"2010-11-18","g":1,"v":24.3},{"d":"2010-11-19","g":1,"v":14.5},{"d":"2010-11-20","g":1,"v":21.0},{"d":"2010-11-21","g":1,"v":10.0},{"d":"2010-11-22","g":1,"v":4.6},{"d":"2010-11-23","g":1,"v":17.9},
{"d":"2010-12-02","g":2,"v":5.2},{"d":"2010-12-03","g":2,"v":9.0},{"d":"2010-12-04","g":2,"v":13.0},{"d":"2010-12-05","g":2,"v":18.0},{"d":"2010-12-06","g":2,"v":23.0},{"d":"2010-12-07","g":2,"v":27.0},{"d":"2010-12-08","g":2,"v":29.5},{"d":"2010-12-09","g":2,"v":20.0},{"d":"2010-12-10","g":2,"v":8.4},
{"d":"2011-01-03","g":3,"v":20.5},{"d":"2011-01-04","g":3,"v":26.3},{"d":"2011-01-05","g":3,"v":14.0},{"d":"2011-01-06","g":3,"v":17.9},{"d":"2011-01-07","g":3,"v":25.0},{"d":"2011-01-08","g":3,"v":30.6},{"d":"2011-01-09","g":3,"v":31.0},{"d":"2011-01-10","g":3,"v":31.3},{"d":"2011-01-11","g":3,"v":25.6},{"d":"2011-01-12","g":3,"v":18.0},{"d":"2011-01-13","g":3,"v":22.0},{"d":"2011-01-14","g":3,"v":11.6},{"d":"2011-01-15","g":3,"v":7.7},{"d":"2011-01-16","g":3,"v":14.0},{"d":"2011-01-17","g":3,"v":18.0},{"d":"2011-01-18","g":3,"v":7.0},{"d":"2011-01-19","g":3,"v":3.8},{"d":"2011-01-20","g":3,"v":13.0},{"d":"2011-01-21","g":3,"v":17.9},{"d":"2011-01-22","g":3,"v":13.0},{"d":"2011-01-23","g":3,"v":7.0},{"d":"2011-01-25","g":3,"v":6.5},{"d":"2011-01-26","g":3,"v":4.6},{"d":"2011-01-27","g":3,"v":15.0},{"d":"2011-01-28","g":3,"v":23.7},{"d":"2011-01-29","g":3,"v":28.1},{"d":"2011-01-30","g":3,"v":30.5},{"d":"2011-01-31","g":3,"v":31.3},{"d":"2011-02-01","g":3,"v":17.9},{"d":"2011-02-02","g":3,"v":10.9},{"d":"2011-02-03","g":3,"v":11.5}],
"S3MC":[{"d":"2010-10-03","g":1,"v":13.5},{"d":"2010-10-13","g":1,"v":16.2},{"d":"2010-10-23","g":1,"v":19.3},{"d":"2010-11-02","g":1,"v":22.8},{"d":"2010-11-12","g":1,"v":27.0},{"d":"2010-11-23","g":1,"v":33.5},
{"d":"2010-12-02","g":2,"v":33.8},{"d":"2010-12-10","g":2,"v":35.4},
{"d":"2011-01-03","g":3,"v":37.0},{"d":"2011-01-10","g":3,"v":35.6},{"d":"2011-01-18","g":3,"v":33.6},{"d":"2011-01-26","g":3,"v":31.5},{"d":"2011-02-03","g":3,"v":29.5}],
"S3CO":[{"d":"2010-10-03","g":1,"v":9.0},{"d":"2010-10-05","g":1,"v":10.3},{"d":"2010-10-07","g":1,"v":11.5},{"d":"2010-10-09","g":1,"v":12.2},{"d":"2010-10-11","g":1,"v":11.8},{"d":"2010-10-13","g":1,"v":12.8},{"d":"2010-10-15","g":1,"v":14.0},{"d":"2010-10-17","g":1,"v":15.4},{"d":"2010-10-19","g":1,"v":14.8},{"d":"2010-10-21","g":1,"v":16.0},{"d":"2010-10-23","g":1,"v":17.9},{"d":"2010-10-25","g":1,"v":17.3},{"d":"2010-10-27","g":1,"v":19.0},{"d":"2010-10-29","g":1,"v":18.0},{"d":"2010-10-31","g":1,"v":21.8},{"d":"2010-11-02","g":1,"v":22.5},{"d":"2010-11-04","g":1,"v":24.3},{"d":"2010-11-06","g":1,"v":22.0},{"d":"2010-11-08","g":1,"v":26.9},{"d":"2010-11-10","g":1,"v":25.0},{"d":"2010-11-12","g":1,"v":28.7},{"d":"2010-11-14","g":1,"v":26.0},{"d":"2010-11-16","g":1,"v":30.6},{"d":"2010-11-18","g":1,"v":29.0},{"d":"2010-11-20","g":1,"v":33.2},{"d":"2010-11-22","g":1,"v":32.0},{"d":"2010-11-23","g":1,"v":34.5},
{"d":"2010-12-02","g":2,"v":37.0},{"d":"2010-12-03","g":2,"v":37.8},{"d":"2010-12-04","g":2,"v":37.3},{"d":"2010-12-05","g":2,"v":38.5},{"d":"2010-12-06","g":2,"v":38.3},{"d":"2010-12-07","g":2,"v":37.8},{"d":"2010-12-08","g":2,"v":37.6},{"d":"2010-12-09","g":2,"v":38.2},{"d":"2010-12-10","g":2,"v":38.9},
{"d":"2011-01-03","g":3,"v":40.2},{"d":"2011-01-04","g":3,"v":37.0},{"d":"2011-01-05","g":3,"v":34.5},{"d":"2011-01-06","g":3,"v":39.6},{"d":"2011-01-08","g":3,"v":35.7},{"d":"2011-01-10","g":3,"v":34.5},{"d":"2011-01-11","g":3,"v":33.8},{"d":"2011-01-13","g":3,"v":36.4},{"d":"2011-01-15","g":3,"v":37.0},{"d":"2011-01-17","g":3,"v":37.2},{"d":"2011-01-19","g":3,"v":36.5},{"d":"2011-01-21","g":3,"v":35.0},{"d":"2011-01-22","g":3,"v":33.5},{"d":"2011-01-23","g":3,"v":31.3},{"d":"2011-01-25","g":3,"v":33.8},{"d":"2011-01-26","g":3,"v":30.6},{"d":"2011-01-28","g":3,"v":29.3},{"d":"2011-01-29","g":3,"v":32.0},{"d":"2011-01-31","g":3,"v":29.5},{"d":"2011-02-02","g":3,"v":25.0},{"d":"2011-02-03","g":3,"v":22.4}],
"S3CC":[{"d":"2010-10-03","g":1,"v":10.3},{"d":"2010-10-13","g":1,"v":13.0},{"d":"2010-10-23","g":1,"v":16.5},{"d":"2010-11-02","g":1,"v":21.0},{"d":"2010-11-12","g":1,"v":27.5},{"d":"2010-11-23","g":1,"v":36.0},
{"d":"2010-12-02","g":2,"v":38.3},{"d":"2010-12-10","g":2,"v":40.6},
{"d":"2011-01-03","g":3,"v":41.2},{"d":"2011-01-10","g":3,"v":39.3},{"d":"2011-01-18","g":3,"v":36.8},{"d":"2011-01-26","g":3,"v":34.0},{"d":"2011-02-03","g":3,"v":31.0}]
},
"concat":[
{"width":155,"height":135,
"encoding":{"y":{"field":"v","type":"quantitative","scale":{"domain":[0,14.6],"nice":false,"zero":false},"axis":{"values":[0,2,4,6,8,10,12,14],"tickSize":-4,"tickColor":"#777","domainColor":"#666","labelFontSize":13,"labelColor":"#222","labelPadding":12.5,"labelFlush":false,"grid":false,"title":["D\u1d07\u1d21(G), D\u0305\u1d07\u1d21(G)","(kJ m\u207b\u00b2)"],"titleFontSize":16,"titleFontWeight":"normal","titleColor":"#222","titleX":-40,"titleY":71.5,"titleLineHeight":16}}},
"layer":[
{"data":{"name":"E1CC"},"mark":{"type":"line","strokeWidth":1.1,"strokeDash":[5,2.5],"clip":true},"encoding":{"x":{"field":"d","type":"temporal","scale":{"type":"utc","domain":[{"year":2007,"month":11,"date":15,"hours":12,"utc":true},{"year":2008,"month":2,"date":19,"hours":14,"utc":true}]},"axis":null},"detail":{"field":"g","type":"nominal"},"color":{"datum":"Concordia Computed","type":"nominal","scale":{"domain":["Concordia Observed","Concordia Computed"],"range":["#2f2b86","#3d3994"]}}}},
{"data":{"name":"E1CO"},"mark":{"type":"line","strokeWidth":1.5,"clip":true},"encoding":{"x":{"field":"d","type":"temporal","scale":{"type":"utc","domain":[{"year":2007,"month":11,"date":15,"hours":12,"utc":true},{"year":2008,"month":2,"date":19,"hours":14,"utc":true}]},"axis":null},"detail":{"field":"g","type":"nominal"},"color":{"datum":"Concordia Observed","type":"nominal","scale":{"domain":["Concordia Observed","Concordia Computed"],"range":["#2f2b86","#3d3994"]},"legend":{"title":"Concordia:","orient":"none","legendX":359,"legendY":-44.5,"direction":"vertical","titleOrient":"left","titleAnchor":"middle","titleBaseline":"middle","titleFontSize":18.5,"titleFontWeight":"normal","titleColor":"#222","titlePadding":8,"symbolType":"stroke","symbolSize":900,"symbolStrokeWidth":1.5,"clipHeight":17,"labelFontSize":13.5,"labelColor":"#222","labelOffset":9,"labelExpr":"replace(datum.label, 'Concordia ', '')","rowPadding":0,"padding":0,"encode":{"symbols":{"update":{"stroke":{"signal":"datum.value === 'Concordia Observed' ? '#3f3a8d' : '#c8c8c8'"},"strokeDash":{"signal":"datum.value === 'Concordia Observed' ? [1,0] : [2,1.5]"}}}}}}}},
{"data":{"name":"E1MC"},"mark":{"type":"line","strokeWidth":1.1,"strokeDash":[3.5,2],"clip":true},"encoding":{"x":{"field":"d","type":"temporal","scale":{"type":"utc","domain":[{"year":2007,"month":11,"date":15,"hours":12,"utc":true},{"year":2008,"month":2,"date":19,"hours":14,"utc":true}]},"axis":{"orient":"top","values":[{"year":2007,"month":12,"date":1,"utc":true},{"year":2008,"month":1,"date":1,"utc":true}],"tickSize":-4,"tickColor":"#777","domainColor":"#9a9a9a","labels":false,"title":null,"grid":false}},"detail":{"field":"g","type":"nominal"},"stroke":{"datum":"Computed","type":"nominal","scale":{"domain":["Observed","Computed"],"range":["#e32b2b","#e39a8c"]}}}},
{"data":{"name":"E1MO"},"mark":{"type":"line","strokeWidth":1.3,"clip":true},"encoding":{"x":{"field":"d","type":"temporal","scale":{"type":"utc","domain":[{"year":2007,"month":11,"date":15,"hours":12,"utc":true},{"year":2008,"month":2,"date":19,"hours":14,"utc":true}]},"axis":{"orient":"bottom","values":[{"year":2007,"month":12,"date":1,"utc":true},{"year":2008,"month":1,"date":1,"utc":true}],"tickSize":-4,"tickColor":"#777","domainColor":"#8a8a8a","labels":false,"title":null,"grid":false}},"detail":{"field":"g","type":"nominal"},"stroke":{"datum":"Observed","type":"nominal","scale":{"domain":["Observed","Computed"],"range":["#e32b2b","#e39a8c"]},"legend":{"title":"Mendel:","orient":"none","legendX":20,"legendY":-44.5,"direction":"vertical","titleOrient":"left","titleAnchor":"middle","titleBaseline":"middle","titleFontSize":18.5,"titleFontWeight":"normal","titleColor":"#222","titlePadding":6,"symbolType":"stroke","symbolSize":900,"symbolStrokeWidth":1.5,"clipHeight":17,"labelFontSize":13.5,"labelColor":"#222","labelOffset":11,"rowPadding":0,"padding":0,"encode":{"symbols":{"update":{"stroke":{"signal":"datum.value === 'Observed' ? '#d8353a' : '#7e74cf'"},"strokeDash":{"signal":"datum.value === 'Observed' ? [1,0] : [3,2]"}}}}}}}}
],
"resolve":{"axis":{"x":"independent"}}},
{"width":186,"height":135,
"encoding":{"y":{"field":"v","type":"quantitative","scale":{"domain":[0,14.6],"nice":false,"zero":false},"axis":null}},
"layer":[
{"data":{"name":"E2CC"},"mark":{"type":"line","strokeWidth":1.1,"strokeDash":[5,2.5],"clip":true},"encoding":{"x":{"field":"d","type":"temporal","scale":{"type":"utc","domain":[{"year":2008,"month":10,"date":2,"utc":true},{"year":2009,"month":1,"date":21,"hours":14,"utc":true}]},"axis":null},"detail":{"field":"g","type":"nominal"},"color":{"datum":"Concordia Computed","type":"nominal","scale":{"domain":["Concordia Observed","Concordia Computed"],"range":["#2f2b86","#3d3994"]}}}},
{"data":{"name":"E2CO"},"mark":{"type":"line","strokeWidth":1.5,"clip":true},"encoding":{"x":{"field":"d","type":"temporal","scale":{"type":"utc","domain":[{"year":2008,"month":10,"date":2,"utc":true},{"year":2009,"month":1,"date":21,"hours":14,"utc":true}]},"axis":null},"detail":{"field":"g","type":"nominal"},"color":{"datum":"Concordia Observed","type":"nominal","scale":{"domain":["Concordia Observed","Concordia Computed"],"range":["#2f2b86","#3d3994"]}}}},
{"data":{"name":"E2MC"},"mark":{"type":"line","strokeWidth":1.1,"strokeDash":[3.5,2],"clip":true},"encoding":{"x":{"field":"d","type":"temporal","scale":{"type":"utc","domain":[{"year":2008,"month":10,"date":2,"utc":true},{"year":2009,"month":1,"date":21,"hours":14,"utc":true}]},"axis":{"orient":"top","values":[{"year":2008,"month":11,"date":1,"utc":true},{"year":2008,"month":12,"date":1,"utc":true}],"tickSize":-4,"tickColor":"#777","domainColor":"#9a9a9a","labels":false,"title":null,"grid":false}},"detail":{"field":"g","type":"nominal"},"stroke":{"datum":"Computed","type":"nominal","scale":{"domain":["Observed","Computed"],"range":["#e32b2b","#e39a8c"]}}}},
{"data":{"name":"E2MO"},"mark":{"type":"line","strokeWidth":1.3,"clip":true},"encoding":{"x":{"field":"d","type":"temporal","scale":{"type":"utc","domain":[{"year":2008,"month":10,"date":2,"utc":true},{"year":2009,"month":1,"date":21,"hours":14,"utc":true}]},"axis":{"orient":"bottom","values":[{"year":2008,"month":11,"date":1,"utc":true},{"year":2008,"month":12,"date":1,"utc":true}],"tickSize":-4,"tickColor":"#777","domainColor":"#8a8a8a","labels":false,"title":null,"grid":false}},"detail":{"field":"g","type":"nominal"},"stroke":{"datum":"Observed","type":"nominal","scale":{"domain":["Observed","Computed"],"range":["#e32b2b","#e39a8c"]}}}}
],
"resolve":{"axis":{"x":"independent"}}},
{"width":208,"height":135,
"encoding":{"y":{"field":"v","type":"quantitative","scale":{"domain":[0,14.6],"nice":false,"zero":false},"axis":null}},
"layer":[
{"data":{"name":"E3CC"},"mark":{"type":"line","strokeWidth":1.1,"strokeDash":[5,2.5],"clip":true},"encoding":{"x":{"field":"d","type":"temporal","scale":{"type":"utc","domain":[{"year":2010,"month":10,"date":3,"utc":true},{"year":2011,"month":2,"date":6,"hours":10,"utc":true}]},"axis":null},"detail":{"field":"g","type":"nominal"},"color":{"datum":"Concordia Computed","type":"nominal","scale":{"domain":["Concordia Observed","Concordia Computed"],"range":["#2f2b86","#3d3994"]}}}},
{"data":{"name":"E3CO"},"mark":{"type":"line","strokeWidth":1.5,"clip":true},"encoding":{"x":{"field":"d","type":"temporal","scale":{"type":"utc","domain":[{"year":2010,"month":10,"date":3,"utc":true},{"year":2011,"month":2,"date":6,"hours":10,"utc":true}]},"axis":null},"detail":{"field":"g","type":"nominal"},"color":{"datum":"Concordia Observed","type":"nominal","scale":{"domain":["Concordia Observed","Concordia Computed"],"range":["#2f2b86","#3d3994"]}}}},
{"data":{"name":"E3MC"},"mark":{"type":"line","strokeWidth":1.1,"strokeDash":[3.5,2],"clip":true},"encoding":{"x":{"field":"d","type":"temporal","scale":{"type":"utc","domain":[{"year":2010,"month":10,"date":3,"utc":true},{"year":2011,"month":2,"date":6,"hours":10,"utc":true}]},"axis":{"orient":"top","values":[{"year":2010,"month":12,"date":1,"utc":true},{"year":2011,"month":1,"date":1,"utc":true},{"year":2011,"month":2,"date":1,"utc":true}],"tickSize":-4,"tickColor":"#777","domainColor":"#9a9a9a","labels":false,"title":null,"grid":false}},"detail":{"field":"g","type":"nominal"},"stroke":{"datum":"Computed","type":"nominal","scale":{"domain":["Observed","Computed"],"range":["#e32b2b","#e39a8c"]}}}},
{"data":{"name":"E3MO"},"mark":{"type":"line","strokeWidth":1.3,"clip":true},"encoding":{"x":{"field":"d","type":"temporal","scale":{"type":"utc","domain":[{"year":2010,"month":10,"date":3,"utc":true},{"year":2011,"month":2,"date":6,"hours":10,"utc":true}]},"axis":{"orient":"bottom","values":[{"year":2010,"month":12,"date":1,"utc":true},{"year":2011,"month":1,"date":1,"utc":true},{"year":2011,"month":2,"date":1,"utc":true}],"tickSize":-4,"tickColor":"#777","domainColor":"#8a8a8a","labels":false,"title":null,"grid":false}},"detail":{"field":"g","type":"nominal"},"stroke":{"datum":"Observed","type":"nominal","scale":{"domain":["Observed","Computed"],"range":["#e32b2b","#e39a8c"]}}}}
],
"resolve":{"axis":{"x":"independent"}}},
{"width":155,"height":131,
"encoding":{"y":{"field":"v","type":"quantitative","scale":{"domain":[0,50],"nice":false,"zero":false},"axis":{"values":[0,10,20,30,40,50],"tickSize":-4,"tickColor":"#777","domainColor":"#666","labelFontSize":13,"labelColor":"#222","labelPadding":12.5,"labelFlush":false,"grid":false,"title":["D\ua731\u1d21\u1d05(G), D\u0305\ua731\u1d21\u1d05(G)","(MJ m\u207b\u00b2)"],"titleFontSize":16,"titleFontWeight":"normal","titleColor":"#222","titleX":-40,"titleY":61,"titleLineHeight":16}}},
"layer":[
{"data":{"name":"S1CC"},"mark":{"type":"line","strokeWidth":1.1,"strokeDash":[5,2.5],"clip":true},"encoding":{"x":{"field":"d","type":"temporal","scale":{"type":"utc","domain":[{"year":2007,"month":11,"date":15,"hours":12,"utc":true},{"year":2008,"month":2,"date":19,"hours":14,"utc":true}]},"axis":null},"detail":{"field":"g","type":"nominal"},"color":{"datum":"Concordia Computed","type":"nominal","scale":{"domain":["Concordia Observed","Concordia Computed"],"range":["#2f2b86","#3d3994"]}}}},
{"data":{"name":"S1CO"},"mark":{"type":"line","strokeWidth":1.5,"clip":true},"encoding":{"x":{"field":"d","type":"temporal","scale":{"type":"utc","domain":[{"year":2007,"month":11,"date":15,"hours":12,"utc":true},{"year":2008,"month":2,"date":19,"hours":14,"utc":true}]},"axis":{"orient":"bottom","offset":16,"values":[{"year":2008,"month":1,"date":1,"utc":true},{"year":2007,"month":11,"date":24,"hours":12,"utc":true}],"domain":false,"tickSize":24,"tickColor":"#444","tickOpacity":{"condition":{"test":"utchours(datum.value) == 0","value":1},"value":0},"labelExpr":"utchours(datum.value) == 0 ? '' : utcFormat(datum.value, '%Y')","labelFontSize":15.5,"labelColor":"#222","labelPadding":-18,"labelOverlap":false,"labelFlush":false,"labelBound":false,"title":null,"grid":false}},"detail":{"field":"g","type":"nominal"},"color":{"datum":"Concordia Observed","type":"nominal","scale":{"domain":["Concordia Observed","Concordia Computed"],"range":["#2f2b86","#3d3994"]}}}},
{"data":{"name":"S1MC"},"mark":{"type":"line","strokeWidth":1.1,"strokeDash":[3.5,2],"clip":true},"encoding":{"x":{"field":"d","type":"temporal","scale":{"type":"utc","domain":[{"year":2007,"month":11,"date":15,"hours":12,"utc":true},{"year":2008,"month":2,"date":19,"hours":14,"utc":true}]},"axis":{"orient":"top","values":[{"year":2007,"month":12,"date":1,"utc":true},{"year":2008,"month":1,"date":1,"utc":true}],"tickSize":-4,"tickColor":"#777","domainColor":"#9a9a9a","labels":false,"title":null,"grid":false}},"detail":{"field":"g","type":"nominal"},"stroke":{"datum":"Computed","type":"nominal","scale":{"domain":["Observed","Computed"],"range":["#e32b2b","#e39a8c"]}}}},
{"data":{"name":"S1MO"},"mark":{"type":"line","strokeWidth":1.3,"clip":true},"encoding":{"x":{"field":"d","type":"temporal","scale":{"type":"utc","domain":[{"year":2007,"month":11,"date":15,"hours":12,"utc":true},{"year":2008,"month":2,"date":19,"hours":14,"utc":true}]},"axis":{"orient":"bottom","values":[{"year":2007,"month":12,"date":1,"utc":true},{"year":2008,"month":1,"date":1,"utc":true},{"year":2007,"month":11,"date":21,"hours":12,"utc":true},{"year":2007,"month":12,"date":17,"hours":12,"utc":true},{"year":2008,"month":1,"date":16,"hours":12,"utc":true},{"year":2008,"month":2,"date":14,"hours":12,"utc":true}],"tickSize":-4,"tickColor":"#777","tickOpacity":{"condition":{"test":"utchours(datum.value) == 0","value":1},"value":0},"domainColor":"#a0a0a0","labelExpr":"utchours(datum.value) == 0 ? '' : upper(utcFormat(datum.value, '%b'))","labelFontSize":14,"labelColor":"#222","labelPadding":8.6,"labelOverlap":false,"labelFlush":false,"labelBound":false,"title":null,"grid":false}},"detail":{"field":"g","type":"nominal"},"stroke":{"datum":"Observed","type":"nominal","scale":{"domain":["Observed","Computed"],"range":["#e32b2b","#e39a8c"]}}}}
],
"resolve":{"axis":{"x":"independent"}}},
{"width":186,"height":131,
"encoding":{"y":{"field":"v","type":"quantitative","scale":{"domain":[0,50],"nice":false,"zero":false},"axis":null}},
"layer":[
{"data":{"name":"S2CC"},"mark":{"type":"line","strokeWidth":1.1,"strokeDash":[5,2.5],"clip":true},"encoding":{"x":{"field":"d","type":"temporal","scale":{"type":"utc","domain":[{"year":2008,"month":10,"date":2,"utc":true},{"year":2009,"month":1,"date":21,"hours":14,"utc":true}]},"axis":null},"detail":{"field":"g","type":"nominal"},"color":{"datum":"Concordia Computed","type":"nominal","scale":{"domain":["Concordia Observed","Concordia Computed"],"range":["#2f2b86","#3d3994"]}}}},
{"data":{"name":"S2CO"},"mark":{"type":"line","strokeWidth":1.5,"clip":true},"encoding":{"x":{"field":"d","type":"temporal","scale":{"type":"utc","domain":[{"year":2008,"month":10,"date":2,"utc":true},{"year":2009,"month":1,"date":21,"hours":14,"utc":true}]},"axis":{"orient":"bottom","offset":16,"values":[{"year":2009,"month":1,"date":1,"utc":true},{"year":2008,"month":10,"date":14,"hours":12,"utc":true},{"year":2009,"month":1,"date":15,"hours":12,"utc":true}],"domain":false,"tickSize":24,"tickColor":"#444","tickOpacity":{"condition":{"test":"utchours(datum.value) == 0","value":1},"value":0},"labelExpr":"utchours(datum.value) == 0 ? '' : utcFormat(datum.value, '%Y')","labelFontSize":15.5,"labelColor":"#222","labelPadding":-18,"labelOverlap":false,"labelFlush":false,"labelBound":false,"title":null,"grid":false}},"detail":{"field":"g","type":"nominal"},"color":{"datum":"Concordia Observed","type":"nominal","scale":{"domain":["Concordia Observed","Concordia Computed"],"range":["#2f2b86","#3d3994"]}}}},
{"data":{"name":"S2MC"},"mark":{"type":"line","strokeWidth":1.1,"strokeDash":[3.5,2],"clip":true},"encoding":{"x":{"field":"d","type":"temporal","scale":{"type":"utc","domain":[{"year":2008,"month":10,"date":2,"utc":true},{"year":2009,"month":1,"date":21,"hours":14,"utc":true}]},"axis":{"orient":"top","values":[{"year":2008,"month":11,"date":1,"utc":true},{"year":2008,"month":12,"date":1,"utc":true}],"tickSize":-4,"tickColor":"#777","domainColor":"#9a9a9a","labels":false,"title":null,"grid":false}},"detail":{"field":"g","type":"nominal"},"stroke":{"datum":"Computed","type":"nominal","scale":{"domain":["Observed","Computed"],"range":["#e32b2b","#e39a8c"]}}}},
{"data":{"name":"S2MO"},"mark":{"type":"line","strokeWidth":1.3,"clip":true},"encoding":{"x":{"field":"d","type":"temporal","scale":{"type":"utc","domain":[{"year":2008,"month":10,"date":2,"utc":true},{"year":2009,"month":1,"date":21,"hours":14,"utc":true}]},"axis":{"orient":"bottom","values":[{"year":2008,"month":11,"date":1,"utc":true},{"year":2008,"month":12,"date":1,"utc":true},{"year":2008,"month":10,"date":15,"hours":12,"utc":true},{"year":2008,"month":11,"date":17,"hours":12,"utc":true},{"year":2008,"month":12,"date":17,"hours":12,"utc":true},{"year":2009,"month":1,"date":13,"hours":12,"utc":true}],"tickSize":-4,"tickColor":"#777","tickOpacity":{"condition":{"test":"utchours(datum.value) == 0","value":1},"value":0},"domainColor":"#e3c8a6","labelExpr":"utchours(datum.value) == 0 ? '' : upper(utcFormat(datum.value, '%b'))","labelFontSize":14,"labelColor":"#222","labelPadding":8.6,"labelOverlap":false,"labelFlush":false,"labelBound":false,"title":null,"grid":false}},"detail":{"field":"g","type":"nominal"},"stroke":{"datum":"Observed","type":"nominal","scale":{"domain":["Observed","Computed"],"range":["#e32b2b","#e39a8c"]}}}}
],
"resolve":{"axis":{"x":"independent"}}},
{"width":208,"height":131,
"encoding":{"y":{"field":"v","type":"quantitative","scale":{"domain":[0,50],"nice":false,"zero":false},"axis":null}},
"layer":[
{"data":{"name":"S3CC"},"mark":{"type":"line","strokeWidth":1.1,"strokeDash":[5,2.5],"clip":true},"encoding":{"x":{"field":"d","type":"temporal","scale":{"type":"utc","domain":[{"year":2010,"month":10,"date":3,"utc":true},{"year":2011,"month":2,"date":6,"hours":10,"utc":true}]},"axis":null},"detail":{"field":"g","type":"nominal"},"color":{"datum":"Concordia Computed","type":"nominal","scale":{"domain":["Concordia Observed","Concordia Computed"],"range":["#2f2b86","#3d3994"]}}}},
{"data":{"name":"S3CO"},"mark":{"type":"line","strokeWidth":1.5,"clip":true},"encoding":{"x":{"field":"d","type":"temporal","scale":{"type":"utc","domain":[{"year":2010,"month":10,"date":3,"utc":true},{"year":2011,"month":2,"date":6,"hours":10,"utc":true}]},"axis":{"orient":"bottom","offset":16,"values":[{"year":2010,"month":10,"date":3,"utc":true},{"year":2010,"month":11,"date":14,"hours":12,"utc":true},{"year":2011,"month":1,"date":23,"hours":12,"utc":true}],"domain":false,"tickSize":24,"tickColor":"#444","tickOpacity":{"condition":{"test":"utchours(datum.value) == 0","value":1},"value":0},"labelExpr":"utchours(datum.value) == 0 ? '' : utcFormat(datum.value, '%Y')","labelFontSize":15.5,"labelColor":"#222","labelPadding":-18,"labelOverlap":false,"labelFlush":false,"labelBound":false,"title":null,"grid":false}},"detail":{"field":"g","type":"nominal"},"color":{"datum":"Concordia Observed","type":"nominal","scale":{"domain":["Concordia Observed","Concordia Computed"],"range":["#2f2b86","#3d3994"]}}}},
{"data":{"name":"S3MC"},"mark":{"type":"line","strokeWidth":1.1,"strokeDash":[3.5,2],"clip":true},"encoding":{"x":{"field":"d","type":"temporal","scale":{"type":"utc","domain":[{"year":2010,"month":10,"date":3,"utc":true},{"year":2011,"month":2,"date":6,"hours":10,"utc":true}]},"axis":{"orient":"top","values":[{"year":2010,"month":12,"date":1,"utc":true},{"year":2011,"month":1,"date":1,"utc":true},{"year":2011,"month":2,"date":1,"utc":true}],"tickSize":-4,"tickColor":"#777","domainColor":"#9a9a9a","labels":false,"title":null,"grid":false}},"detail":{"field":"g","type":"nominal"},"stroke":{"datum":"Computed","type":"nominal","scale":{"domain":["Observed","Computed"],"range":["#e32b2b","#e39a8c"]}}}},
{"data":{"name":"S3MO"},"mark":{"type":"line","strokeWidth":1.3,"clip":true},"encoding":{"x":{"field":"d","type":"temporal","scale":{"type":"utc","domain":[{"year":2010,"month":10,"date":3,"utc":true},{"year":2011,"month":2,"date":6,"hours":10,"utc":true}]},"axis":{"orient":"bottom","values":[{"year":2010,"month":12,"date":1,"utc":true},{"year":2011,"month":1,"date":1,"utc":true},{"year":2011,"month":2,"date":1,"utc":true},{"year":2010,"month":10,"date":18,"hours":12,"utc":true},{"year":2010,"month":11,"date":17,"hours":12,"utc":true},{"year":2010,"month":12,"date":18,"hours":12,"utc":true},{"year":2011,"month":1,"date":19,"hours":12,"utc":true}],"tickSize":-4,"tickColor":"#777","tickOpacity":{"condition":{"test":"utchours(datum.value) == 0","value":1},"value":0},"domainColor":"#e3c8a6","labelExpr":"utchours(datum.value) == 0 ? '' : upper(utcFormat(datum.value, '%b'))","labelFontSize":14,"labelColor":"#222","labelPadding":8.6,"labelOverlap":false,"labelFlush":false,"labelBound":false,"title":null,"grid":false}},"detail":{"field":"g","type":"nominal"},"stroke":{"datum":"Observed","type":"nominal","scale":{"domain":["Observed","Computed"],"range":["#e32b2b","#e39a8c"]}}}}
],
"resolve":{"axis":{"x":"independent"}}}
],
"columns":3,
"spacing":{"row":17.5,"column":14},
"bounds":"flush",
"config":{"font":"Liberation Sans","view":{"stroke":null},"axis":{"labelFont":"Liberation Sans","titleFont":"Liberation Sans"},"legend":{"labelFont":"Liberation Sans","titleFont":"Liberation Sans"}}
}
